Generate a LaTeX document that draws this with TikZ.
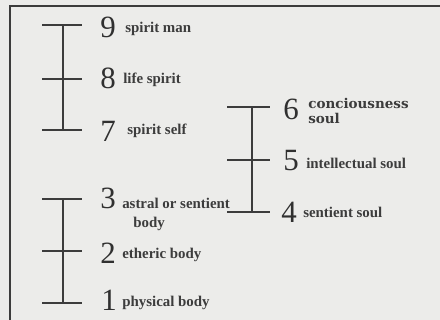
\documentclass[tikz,border=0pt]{standalone}
\usepackage{fontspec}
\setmainfont{Liberation Serif}
\newfontfamily\slabfont{DejaVu Serif}
\usetikzlibrary{calc, positioning}
\definecolor{paper}{RGB}{236,236,234}
\definecolor{ink}{RGB}{60,60,60}

\begin{document}
\begin{tikzpicture}[x=0.025cm, y=-0.025cm,
    rung/.style={draw=ink, line width=1.1pt},
    spine/.style={draw=ink, line width=1.1pt},
    num/.style={anchor=west, inner sep=0pt, text=ink!80!black, font=\fontsize{22}{22}\selectfont},
    lbl/.style={anchor=west, inner sep=0pt, text=ink, font=\fontsize{10.6}{11}\selectfont\bfseries, align=left}]
    \fill[paper] (0,0) rectangle (440,320);
    \useasboundingbox (0,0) rectangle (440,320);
    % frame
    \draw[ink, line width=1.2pt] (10,320) -- (10,6) -- (440,6);

    % spirit ladder
    \coordinate (s9) at (63,25);
    \coordinate (s8) at (63,79);
    \coordinate (s7) at (63,130);
    \draw[rung] ($(s9)+(-21,0)$) -- ($(s9)+(19,0)$);
    \draw[rung] ($(s8)+(-21,0)$) -- ($(s8)+(19,0)$);
    \draw[rung] ($(s7)+(-21,0)$) -- ($(s7)+(19,0)$);
    \draw[spine] (s9) -- (s7);
    \node[num] (n9) at (100,27) {9};
    \node[num] (n8) at (100,78) {8};
    \node[num] (n7) at (100,131) {7};
    \node[lbl] (spiritman) at (125,29) {spirit man};
    \node[lbl] (lifespirit) at (123,80) {life spirit};
    \node[lbl] (spiritself) at (127,131) {spirit self};

    % body ladder
    \coordinate (b3) at (63,199);
    \coordinate (b2) at (63,251);
    \coordinate (b1) at (63,303);
    \draw[rung] ($(b3)+(-21,0)$) -- ($(b3)+(19,0)$);
    \draw[rung] ($(b2)+(-21,0)$) -- ($(b2)+(19,0)$);
    \draw[rung] ($(b1)+(-21,0)$) -- ($(b1)+(19,0)$);
    \draw[spine] (b3) -- (b1);
    \node[num] (n3) at (100,198) {3};
    \node[num] (n2) at (100,253) {2};
    \node[num] (n1) at (101,300) {1};
    \node[lbl] (astral) at (122,203) {astral or sentient};
    \node[lbl] (astralbody) at (133,224) {body};
    \node[lbl] (etheric) at (122,255) {etheric body};
    \node[lbl] (physical) at (122,303) {physical body};

    % soul ladder
    \coordinate (o6) at (252,107);
    \coordinate (o5) at (252,160);
    \coordinate (o4) at (252,212);
    \draw[rung] ($(o6)+(-25,0)$) -- ($(o6)+(18,0)$);
    \draw[rung] ($(o5)+(-25,0)$) -- ($(o5)+(18,0)$);
    \draw[rung] ($(o4)+(-25,0)$) -- ($(o4)+(18,0)$);
    \draw[spine] (o6) -- (o4);
    \node[num] (n6) at (283,109) {6};
    \node[num] (n5) at (283,161) {5};
    \node[num] (n4) at (281,212) {4};
    \node[lbl, font=\slabfont\fontsize{9.6}{10.5}\selectfont\bfseries] (conscious) at (308,111) {conciousness\\soul};
    \node[lbl] (intellect) at (306,163) {intellectual soul};
    \node[lbl] (sentient) at (303,212) {sentient soul};
\end{tikzpicture}
\end{document}
